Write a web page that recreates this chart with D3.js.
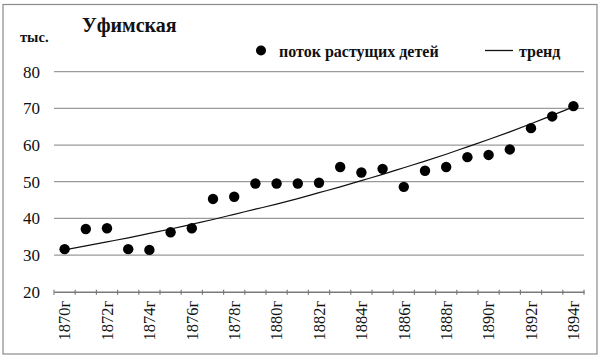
<!DOCTYPE html>
<html><head><meta charset="utf-8">
<script src="https://cdn.jsdelivr.net/npm/d3@7"></script>
<style>
html,body{margin:0;padding:0;background:#fff;}
svg{display:block;}
</style></head>
<body>
<svg id="chart" width="600" height="358" font-family="'Liberation Serif', 'DejaVu Serif', serif"></svg>
<script>
const years = [1870,1871,1872,1873,1874,1875,1876,1877,1878,1879,1880,1881,1882,1883,1884,1885,1886,1887,1888,1889,1890,1891,1892,1893,1894];
const flowValues = [31.6,37.1,37.3,31.6,31.4,36.2,37.3,45.3,45.9,49.5,49.5,49.5,49.7,54.0,52.5,53.5,48.6,53.0,54.0,56.7,57.3,58.8,64.6,67.8,70.6];
const trendValues = [31.4,32.5,33.6,34.7,35.9,37.1,38.4,39.7,41.1,42.5,43.9,45.4,47.0,48.6,50.3,52.0,53.8,55.6,57.5,59.5,61.5,63.6,65.8,68.1,70.4];
const yTicks = [20,30,40,50,60,70,80];
const title = "Уфимская";
const unitLabel = "тыс.";
const legendLabels = ["поток растущих детей","тренд"];

const FONT = "'Liberation Serif', 'DejaVu Serif', serif";
const svg = d3.select("#chart");
svg.append("rect").attr("x",3).attr("y",4.5).attr("width",594).attr("height",349.5)
  .attr("fill","#fff").attr("stroke","#8a8a8a").attr("stroke-width",1.2);

const x0 = 54, x1 = 584, yTop = 71.7, yBot = 291.7;
const xb = d3.scaleBand().domain(years.map(String)).range([x0,x1]).padding(0);
const y = d3.scaleLinear().domain([20,80]).range([yBot,yTop]);
const cx = d => xb(String(d)) + xb.bandwidth()/2;

svg.append("g").selectAll("line").data(yTicks.filter(t=>t>20)).join("line")
  .attr("x1",x0).attr("x2",x1).attr("y1",d=>y(d)).attr("y2",d=>y(d))
  .attr("stroke","#9a9a9a").attr("stroke-width",1.3);

svg.append("g").selectAll("text").data(yTicks).join("text")
  .attr("font-family",FONT).attr("fill","#111")
  .attr("x",40).attr("y",d=>y(d)).attr("dy","0.35em").attr("text-anchor","end")
  .attr("font-size",17).text(d=>d);

const xAxis = d3.axisBottom(xb).tickSize(0).tickFormat("");
const gx = svg.append("g").attr("transform",`translate(0,${yBot})`).call(xAxis);
gx.select(".domain").attr("stroke","#7a7a7a").attr("stroke-width",1.5);
const bounds = years.map(d=>xb(String(d))).concat([x1]);
svg.append("g").selectAll("line").data(bounds).join("line")
  .attr("x1",d=>d).attr("x2",d=>d).attr("y1",yBot-2).attr("y2",yBot+3)
  .attr("stroke","#7a7a7a").attr("stroke-width",1.2);
svg.append("g").selectAll("text").data(years.filter((d,i)=>i%2===0)).join("text")
  .attr("font-family",FONT).attr("fill","#111")
  .attr("transform",d=>`translate(${cx(d)},${yBot+9}) rotate(-90)`)
  .attr("text-anchor","end").attr("dy","0.35em").attr("font-size",16.5)
  .text(d=>d+"г");

const line = d3.line().x((d,i)=>cx(years[i])).y(d=>y(d)).curve(d3.curveMonotoneX);
svg.append("path").datum(trendValues).attr("d",line)
  .attr("fill","none").attr("stroke","#111").attr("stroke-width",1.2);

svg.append("g").selectAll("circle").data(flowValues).join("circle")
  .attr("cx",(d,i)=>cx(years[i])).attr("cy",d=>y(d)).attr("r",5.2).attr("fill","#000");

svg.append("text").attr("font-family",FONT).attr("fill","#111")
  .attr("x",82).attr("y",32).attr("font-size",20).attr("font-weight","bold").text(title);
svg.append("text").attr("font-family",FONT).attr("fill","#111")
  .attr("x",20).attr("y",42).attr("font-size",14.5).attr("font-weight","bold").text(unitLabel);

svg.append("circle").attr("cx",261).attr("cy",50.5).attr("r",5).attr("fill","#000");
svg.append("text").attr("font-family",FONT).attr("fill","#111")
  .attr("x",279).attr("y",56.5).attr("font-size",16).attr("font-weight","bold").text(legendLabels[0]);
svg.append("line").attr("x1",485).attr("x2",513).attr("y1",50.5).attr("y2",50.5).attr("stroke","#111").attr("stroke-width",1.3);
svg.append("text").attr("font-family",FONT).attr("fill","#111")
  .attr("x",519).attr("y",56.5).attr("font-size",16).attr("font-weight","bold").text(legendLabels[1]);
</script>
</body></html>
